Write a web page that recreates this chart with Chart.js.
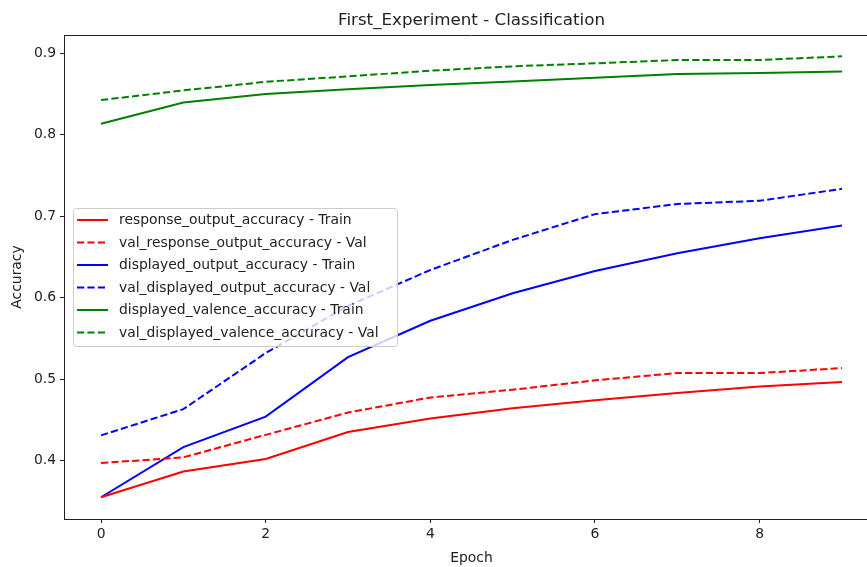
<!DOCTYPE html>
<html>
<head>
<meta charset="utf-8">
<script src="https://cdn.jsdelivr.net/npm/chart.js@4"></script>
<style>
html,body{margin:0;padding:0;background:#fff;overflow:hidden;}
#wrap{width:880px;height:567px;}
</style>
</head>
<body>
<div id="wrap"><canvas id="c" width="880" height="567"></canvas></div>
<script>
const chartTitle = "First_Experiment - Classification";
const xLabel = "Epoch";
const yLabel = "Accuracy";
const epochs = [0, 1, 2, 3, 4, 5, 6, 7, 8, 9];
const xTickValues = [0, 2, 4, 6, 8];
const yTickValues = [0.4, 0.5, 0.6, 0.7, 0.8, 0.9];

const responseTrain = [0.355, 0.3865, 0.402, 0.435, 0.4517, 0.4644, 0.474, 0.483, 0.491, 0.4964];
const responseVal = [0.397, 0.404, 0.4316, 0.459, 0.4775, 0.487, 0.4985, 0.5075, 0.5075, 0.5136];
const displayedTrain = [0.355, 0.4165, 0.454, 0.527, 0.5717, 0.6054, 0.6328, 0.6546, 0.673, 0.6887];
const displayedVal = [0.431, 0.4632, 0.532, 0.59, 0.634, 0.671, 0.7026, 0.715, 0.719, 0.7337];
const valenceTrain = [0.8135, 0.8397, 0.85, 0.856, 0.861, 0.8655, 0.870, 0.8745, 0.876, 0.8778];
const valenceVal = [0.8426, 0.8545, 0.865, 0.8717, 0.8787, 0.884, 0.8877, 0.8918, 0.8918, 0.8963];

const seriesLabels = [
  "response_output_accuracy - Train",
  "val_response_output_accuracy - Val",
  "displayed_output_accuracy - Train",
  "val_displayed_output_accuracy - Val",
  "displayed_valence_accuracy - Train",
  "val_displayed_valence_accuracy - Val"
];
const seriesValues = [responseTrain, responseVal, displayedTrain, displayedVal, valenceTrain, valenceVal];
const seriesColors = ["#ff0000", "#ff0000", "#0000ff", "#0000ff", "#008000", "#008000"];
const seriesDashed = [false, true, false, true, false, true];

const FONT = "'DejaVu Sans', sans-serif";
const TXT = "#222222";
const DASH = [7.2, 3.2];
const LW = 2;

const datasets = seriesValues.map((vals, i) => ({
  label: seriesLabels[i],
  data: epochs.map((e, j) => ({x: e, y: vals[j]})),
  borderColor: seriesColors[i],
  backgroundColor: seriesColors[i],
  borderWidth: LW,
  borderDash: seriesDashed[i] ? DASH : [],
  pointRadius: 0,
  tension: 0,
  fill: false
}));

const decor = {
  id: 'decor',
  afterDatasetsDraw(chart) {
    const ctx = chart.ctx;
    const a = chart.chartArea;
    ctx.save();
    // spines (top & right)
    ctx.strokeStyle = TXT;
    ctx.lineWidth = 1;
    ctx.beginPath();
    ctx.moveTo(a.left, a.top + 0.5);
    ctx.lineTo(a.right, a.top + 0.5);
    ctx.moveTo(a.right - 0.5, a.top);
    ctx.lineTo(a.right - 0.5, a.bottom);
    ctx.stroke();

    // legend
    const bx = 73, by = 208, bw = 324, bh = 138;
    ctx.beginPath();
    ctx.roundRect(bx + 0.5, by + 0.5, bw, bh, 3);
    ctx.fillStyle = "rgba(255,255,255,0.8)";
    ctx.fill();
    ctx.strokeStyle = "#cccccc";
    ctx.lineWidth = 1;
    ctx.stroke();
    ctx.font = "13.9px " + FONT;
    ctx.textBaseline = "middle";
    ctx.textAlign = "left";
    chart.data.datasets.forEach((ds, i) => {
      const yy = 220 + i * 22.5;
      ctx.beginPath();
      ctx.setLineDash(ds.borderDash || []);
      ctx.strokeStyle = ds.borderColor;
      ctx.lineWidth = LW;
      ctx.moveTo(77, yy);
      ctx.lineTo(108, yy);
      ctx.stroke();
      ctx.setLineDash([]);
      ctx.fillStyle = TXT;
      ctx.fillText(ds.label, 119, yy + 0.5);
    });

    // title
    ctx.font = "16.7px " + FONT;
    ctx.textAlign = "center";
    ctx.textBaseline = "middle";
    ctx.fillStyle = TXT;
    ctx.fillText(chartTitle, (a.left + a.right) / 2, 21);
    ctx.restore();
  }
};

new Chart(document.getElementById('c'), {
  type: 'line',
  data: {datasets},
  options: {
    responsive: false,
    animation: false,
    layout: {padding: {top: 35, left: 0, right: 1, bottom: 0}},
    plugins: {legend: {display: false}, tooltip: {enabled: false}, title: {display: false}},
    scales: {
      x: {
        type: 'linear',
        min: -0.45,
        max: 9.45,
        afterBuildTicks: s => { s.ticks = xTickValues.map(v => ({value: v})); },
        afterFit: s => { s.height = 48; },
        grid: {drawOnChartArea: false, drawTicks: true, tickLength: 4, tickColor: TXT, tickWidth: 1},
        border: {display: true, color: TXT, width: 1},
        ticks: {color: TXT, font: {family: FONT, size: 13.9}, padding: 3, maxRotation: 0, autoSkip: false, callback: v => String(v)},
        title: {display: true, text: xLabel, color: TXT, font: {family: FONT, size: 13.9}, padding: {top: 0, bottom: 0}}
      },
      y: {
        type: 'linear',
        min: 0.3283,
        max: 0.9225,
        afterBuildTicks: s => { s.ticks = yTickValues.map(v => ({value: v})); },
        afterFit: s => { s.width = 64; },
        grid: {drawOnChartArea: false, drawTicks: true, tickLength: 4, tickColor: TXT, tickWidth: 1},
        border: {display: true, color: TXT, width: 1},
        ticks: {color: TXT, font: {family: FONT, size: 13.9}, padding: 4, autoSkip: false, callback: v => v.toFixed(1)},
        title: {display: true, text: yLabel, color: TXT, font: {family: FONT, size: 13.9}, padding: {top: 9, bottom: 0}}
      }
    }
  },
  plugins: [decor]
});
</script>
</body>
</html>
